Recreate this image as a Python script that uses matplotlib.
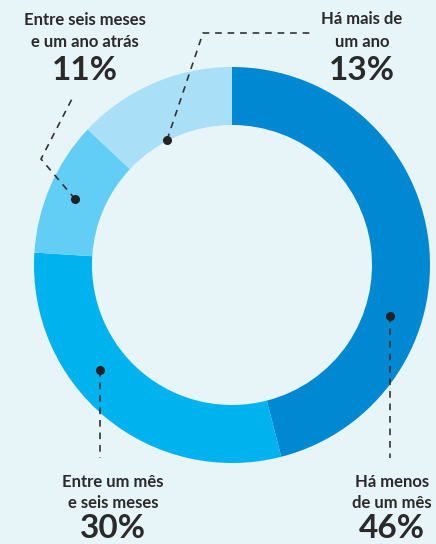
import matplotlib
matplotlib.use("Agg")
import matplotlib.pyplot as plt

# Data
categories = ["Há menos\nde um mês", "Entre um mês\ne seis meses", "Entre seis meses\ne um ano atrás", "Há mais de\num ano"]
values = [46, 30, 11, 13]
pct_labels = ["46%", "30%", "11%", "13%"]
colors = ["#0089d2", "#00b2ee", "#62cdf5", "#aadff8"]

BG = "#e8f5f8"
W, H = 436, 544
fig = plt.figure(figsize=(W / 100, H / 100), dpi=100, facecolor=BG)
ax = fig.add_axes([0, 0, 1, 1])
ax.set_facecolor(BG)

cx, cy, R = 232, 265, 198
width = 58

# y axis inverted below: counterclock=True with startangle=-90 renders clockwise from top
wedges, _ = ax.pie(values, colors=colors, startangle=-90, counterclock=True,
                   center=(cx, cy), radius=R, frame=True,
                   wedgeprops=dict(width=width, linewidth=0))
ax.set_xlim(0, W)
ax.set_ylim(H, 0)
ax.set_aspect("equal")
ax.axis("off")

line_kw = dict(color="#333333", lw=1.2, linestyle=(0, (4, 3.5)))
dot_kw = dict(color="#222222", s=30, zorder=5)

# leader lines (pixel coordinates)
leaders = [
    [(390, 316), (390, 458)],
    [(100, 370), (100, 458)],
    [(75, 199), (41, 159), (74, 95)],
    [(167, 140), (203, 33), (310, 33)],
]
for pts in leaders:
    xs = [p[0] for p in pts]
    ys = [p[1] for p in pts]
    ax.plot(xs, ys, **line_kw, zorder=4)
    ax.scatter([xs[0]], [ys[0]], **dot_kw)

font = "Lato"
# (x center, y of first line, line spacing, y of percent)
text_pos = [
    (392, 482, 21, 529),
    (113, 482, 21, 529),
    (85, 20, 22, 70),
    (362, 19, 23, 70),
]
for (x, y, dy, yp), cat, pct in zip(text_pos, categories, pct_labels):
    for i, ln in enumerate(cat.split("\n")):
        ax.text(x, y + i * dy, ln, ha="center", va="center", fontsize=12, fontweight="bold",
                family=font, color="#2a2a2a")
    ax.text(x, yp, pct, ha="center", va="center", fontsize=24, fontweight="bold",
            family=font, color="#2a2a2a")

fig.savefig("out.png", dpi=100, facecolor=BG)
